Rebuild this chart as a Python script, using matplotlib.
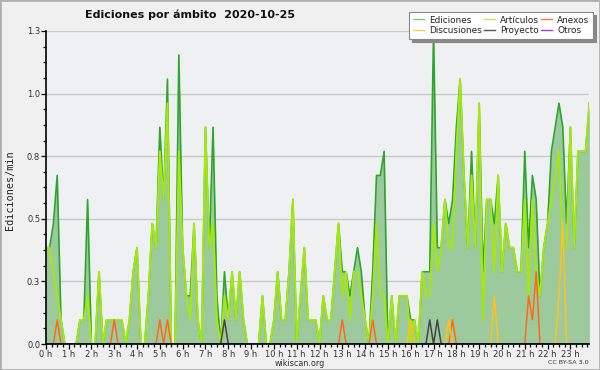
import numpy as np
import matplotlib
matplotlib.use("Agg")
import matplotlib.pyplot as plt
from matplotlib.ticker import MultipleLocator, FixedLocator
from matplotlib.patches import Rectangle
from matplotlib.lines import Line2D

# 10-minute bins, edits per minute
ediciones = [
    0.4, 0.4, 0.5, 0.7, 0.1, 0.0, 0.0, 0.0, 0.0, 0.1, 0.1, 0.6, 0.0, 0.0, 0.3, 0.0, 0.1, 0.1, 0.1, 0.1, 0.1, 0.0, 0.1, 0.3,
    0.4, 0.0, 0.0, 0.2, 0.5, 0.4, 0.9, 0.6, 1.1, 0.0, 0.0, 1.2, 0.4, 0.2, 0.2, 0.5, 0.1, 0.0, 0.9, 0.4, 0.9, 0.2, 0.0, 0.3,
    0.1, 0.3, 0.1, 0.3, 0.1, 0.0, 0.0, 0.0, 0.0, 0.2, 0.0, 0.0, 0.1, 0.3, 0.1, 0.1, 0.3, 0.6, 0.0, 0.2, 0.4, 0.1, 0.1, 0.1,
    0.0, 0.2, 0.1, 0.1, 0.3, 0.5, 0.3, 0.3, 0.2, 0.3, 0.4, 0.3, 0.1, 0.0, 0.3, 0.7, 0.7, 0.8, 0.0, 0.2, 0.0, 0.2, 0.2, 0.2,
    0.1, 0.1, 0.0, 0.3, 0.3, 0.3, 1.3, 0.4, 0.4, 0.6, 0.5, 0.6, 0.9, 1.1, 0.7, 0.4, 0.8, 0.4, 1.0, 0.3, 0.6, 0.6, 0.5, 0.7,
    0.3, 0.5, 0.4, 0.4, 0.3, 0.3, 0.8, 0.4, 0.7, 0.6, 0.2, 0.4, 0.5, 0.8, 0.9, 1.0, 0.9, 0.5, 0.9, 0.4, 0.8, 0.8, 0.8, 1.0,
]
articulos = [
    0.4, 0.4, 0.3, 0.2, 0.1, 0.0, 0.0, 0.0, 0.0, 0.1, 0.1, 0.2, 0.0, 0.0, 0.3, 0.0, 0.1, 0.1, 0.1, 0.1, 0.1, 0.0, 0.1, 0.3,
    0.4, 0.0, 0.0, 0.2, 0.5, 0.4, 0.8, 0.6, 1.0, 0.0, 0.0, 0.8, 0.4, 0.2, 0.1, 0.5, 0.1, 0.0, 0.9, 0.4, 0.5, 0.1, 0.0, 0.2,
    0.1, 0.3, 0.1, 0.3, 0.1, 0.0, 0.0, 0.0, 0.0, 0.2, 0.0, 0.0, 0.1, 0.3, 0.1, 0.1, 0.3, 0.6, 0.0, 0.2, 0.4, 0.1, 0.1, 0.1,
    0.0, 0.2, 0.1, 0.1, 0.3, 0.5, 0.2, 0.3, 0.1, 0.3, 0.3, 0.2, 0.1, 0.0, 0.2, 0.5, 0.2, 0.2, 0.0, 0.2, 0.0, 0.2, 0.2, 0.2,
    0.0, 0.1, 0.0, 0.3, 0.2, 0.2, 0.5, 0.3, 0.4, 0.6, 0.4, 0.4, 0.8, 1.1, 0.7, 0.4, 0.7, 0.4, 1.0, 0.1, 0.6, 0.6, 0.3, 0.7,
    0.3, 0.5, 0.4, 0.4, 0.3, 0.3, 0.6, 0.2, 0.6, 0.3, 0.2, 0.4, 0.5, 0.6, 0.7, 0.8, 0.4, 0.4, 0.9, 0.4, 0.8, 0.8, 0.8, 1.0,
]
# sparse series: {bin index: value}
anexos_pts = {3: 0.1, 18: 0.1, 30: 0.1, 32: 0.1, 78: 0.1, 86: 0.1, 107: 0.1, 127: 0.2, 128: 0.1, 129: 0.3}
discusiones_pts = {96: 0.1, 106: 0.1, 118: 0.2, 135: 0.2, 136: 0.5}
proyecto_pts = {47: 0.1, 101: 0.1, 103: 0.1}
otros_pts = {}

hour_labels = [f"{h} h" for h in range(24)]
ytick_vals = [0.0, 0.26, 0.52, 0.78, 1.04, 1.3]
ytick_labels = ["0.0", "0.3", "0.5", "0.8", "1.0", "1.3"]

n = len(ediciones)
x = np.arange(n)

def sparse(d):
    arr = np.zeros(n)
    for k, v in d.items():
        arr[k] = v
    return arr

anexos = sparse(anexos_pts)
discusiones = sparse(discusiones_pts)
proyecto = sparse(proyecto_pts)
otros = sparse(otros_pts)

W, H = 600, 370
fig = plt.figure(figsize=(W / 100, H / 100), dpi=100, facecolor="#f0f0f0")
ax = fig.add_axes([45.8 / W, 1 - 344 / H, (589.4 - 45.8) / W, (344 - 31) / H])
ax.set_facecolor("#eef0f2")

ax.fill_between(x, ediciones, 0, color="#9dca9d", lw=0, zorder=1)
ax.plot(x, ediciones, color="#2ea52e", lw=1.2, zorder=2)
ax.plot(x, articulos, color="#a4e810", lw=1.4, zorder=3)
ax.plot(x, anexos, color="#ff6a1a", lw=1.1, zorder=4)
ax.plot(x, discusiones, color="#ffc21a", lw=1.1, zorder=4)
ax.plot(x, proyecto, color="#444444", lw=1.1, zorder=4)
ax.plot(x, otros, color="#9b4de8", lw=1.1, zorder=4)

ax.set_xlim(0, n - 1)
ax.set_ylim(0, 1.3)

ax.xaxis.set_major_locator(FixedLocator(list(range(0, n, 6))))
ax.set_xticklabels(hour_labels)
ax.xaxis.set_minor_locator(MultipleLocator(1.5))
ax.yaxis.set_major_locator(FixedLocator(ytick_vals))
ax.set_yticklabels(ytick_labels)
ax.yaxis.set_minor_locator(MultipleLocator(0.065))

ax.tick_params(axis="both", which="both", direction="out", color="black", width=0.9)
ax.tick_params(axis="both", which="major", length=3.5, labelsize=6, labelcolor="#333333", pad=0.5)
ax.tick_params(axis="both", which="minor", length=2.5)

ax.grid(axis="y", which="major", color="#c8c8c8", lw=1, zorder=0)
ax.set_axisbelow(True)
for s in ["top", "right"]:
    ax.spines[s].set_visible(False)
for s in ["left", "bottom"]:
    ax.spines[s].set_color("black")
    ax.spines[s].set_linewidth(1.2)
    ax.spines[s].set_zorder(6)

fig.text(10 / W, 1 - 190 / H, "Ediciones/min", rotation=90, ha="center", va="center",
         fontsize=7.3, family="DejaVu Sans Mono", color="#222222")
fig.text(85 / W, 1 - 9 / H, "Ediciones por ámbito  2020-10-25", ha="left", va="top",
         fontsize=8.0, fontweight="bold", color="#111111")
fig.text(300 / W, 1 - 363 / H, "wikiscan.org", ha="center", va="center", fontsize=5.8, color="#333333")
fig.text(589 / W, 1 - 363 / H, "CC BY-SA 3.0", ha="right", va="center", fontsize=4.6, color="#333333")

legend_names = ["Ediciones", "Discusiones", "Artículos", "Proyecto", "Anexos", "Otros"]
legend_colors = ["#80c880", "#ffcc44", "#c8ec50", "#555555", "#ff7744", "#9944ee"]
handles = [Line2D([], [], color=c, lw=1.0) for c in legend_colors]
leg = fig.legend(handles=handles, labels=legend_names, loc="upper right",
                 bbox_to_anchor=(593 / W, 1 - 12 / H), ncol=3,
                 fontsize=6.4, frameon=True, fancybox=False, shadow={"color": "#888888", "alpha": 1},
                 handlelength=1.2, handletextpad=0.6, columnspacing=0.25, labelspacing=0.2,
                 borderpad=0.4, borderaxespad=0)
leg.get_frame().set_edgecolor("#888888")
leg.get_frame().set_linewidth(0.8)
for t in leg.get_texts():
    t.set_color("#222222")

fig.patches.append(Rectangle((0, 0), 1, 1, transform=fig.transFigure, fill=False,
                             edgecolor="#b0b0b0", lw=2))

fig.savefig("out.png", dpi=100, facecolor=fig.get_facecolor())
